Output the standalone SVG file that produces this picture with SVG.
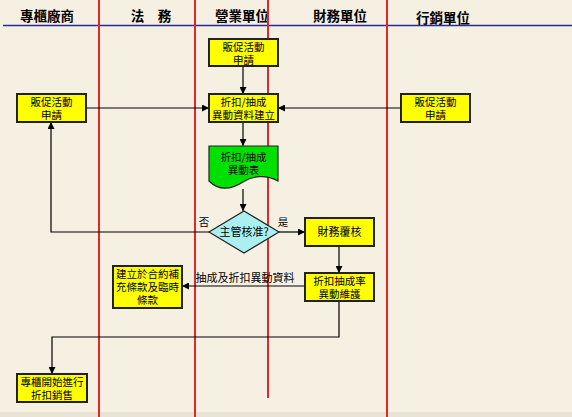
<svg xmlns="http://www.w3.org/2000/svg" width="572" height="417" viewBox="0 0 572 417">
<style>
.hd{font-family:"Noto Sans CJK TC","Noto Sans CJK SC",sans-serif;font-size:13.5px;font-weight:bold;fill:#000;text-anchor:middle}
.t{font-family:"Noto Sans CJK TC","Noto Sans CJK SC",sans-serif;font-size:10.5px;fill:#000;text-anchor:middle}
.box{fill:#ffff00;stroke:#222;stroke-width:2}
.lane{stroke:#e02828;stroke-width:2}
.c{fill:none;stroke:#000;stroke-width:1.2}
</style>
<defs>
<marker id="ar" viewBox="0 0 10 10" refX="10" refY="5" markerWidth="7" markerHeight="7" markerUnits="userSpaceOnUse" orient="auto">
<path d="M0,0 L10,5 L0,10 z" fill="#000"/>
</marker>
</defs>
<rect x="0" y="0" width="572" height="417" fill="#f6f0e3"/>
<rect x="0" y="412" width="572" height="5" fill="#e9e3d6"/>
<g id="header">
<text class="hd" x="47" y="21">專櫃廠商</text>
<text class="hd" x="151" y="21">法　務</text>
<text class="hd" x="242" y="21">營業單位</text>
<text class="hd" x="340" y="21">財務單位</text>
<text class="hd" x="443" y="23">行銷單位</text>
<line x1="3" y1="25.5" x2="572" y2="25.5" stroke="#2a2a9a" stroke-width="1.5"/>
</g>
<g id="lanes">
<line class="lane" x1="99" y1="0" x2="99" y2="417"/>
<line class="lane" x1="195" y1="0" x2="195" y2="417"/>
<line class="lane" x1="268" y1="0" x2="268" y2="398"/>
<line class="lane" x1="387" y1="0" x2="387" y2="417"/>
</g>
<g id="connectors">
<line class="c" x1="243" y1="66" x2="243" y2="94" marker-end="url(#ar)"/>
<line class="c" x1="86" y1="108" x2="209" y2="108" marker-end="url(#ar)"/>
<line class="c" x1="401" y1="108" x2="278" y2="108" marker-end="url(#ar)"/>
<line class="c" x1="243" y1="122" x2="243" y2="146" marker-end="url(#ar)"/>
<line class="c" x1="243" y1="189" x2="243" y2="211" marker-end="url(#ar)"/>
<polyline class="c" points="209,232 51,232 51,122" marker-end="url(#ar)"/>
<line class="c" x1="279" y1="232" x2="305" y2="232" marker-end="url(#ar)"/>
<line class="c" x1="339" y1="246" x2="339" y2="273" marker-end="url(#ar)"/>
<line class="c" x1="305" y1="286" x2="182" y2="286" marker-end="url(#ar)"/>
<polyline class="c" points="339,301 339,337 52,337 52,374" marker-end="url(#ar)"/>
<text class="t" x="204" y="226">否</text>
<text class="t" x="283" y="226">是</text>
<text class="t" x="245" y="282" style="font-size:11px">抽成及折扣異動資料</text>
</g>
<g id="n1">
<rect class="box" x="209" y="39" width="69" height="27"/>
<text class="t" x="243.5" y="50.5">販促活動<tspan x="243.5" dy="13">申請</tspan></text>
</g>
<g id="n2">
<rect class="box" x="209" y="94" width="69" height="28"/>
<text class="t" x="243.5" y="105.5">折扣/抽成<tspan x="243.5" dy="13">異動資料建立</tspan></text>
</g>
<g id="n3">
<rect class="box" x="17" y="94" width="69" height="28"/>
<text class="t" x="51.5" y="105.5">販促活動<tspan x="51.5" dy="13">申請</tspan></text>
</g>
<g id="n4">
<rect class="box" x="401" y="94" width="69" height="28"/>
<text class="t" x="435.5" y="105.5">販促活動<tspan x="435.5" dy="13">申請</tspan></text>
</g>
<g id="n5">
<path d="M209,146 H278 V181 C266,174 252,176 243,182 C232,189 220,192 209,181 Z" fill="#00e000" stroke="#222" stroke-width="1.2"/>
<text class="t" x="243.5" y="161">折扣/抽成<tspan x="243.5" dy="13">異動表</tspan></text>
</g>
<g id="n6">
<polygon points="244,211 279,232 244,253 209,232" fill="#aaf0f0" stroke="#222" stroke-width="1.2"/>
<text class="t" x="244" y="236" style="font-size:11px">主管核准?</text>
</g>
<g id="n7">
<rect class="box" x="305" y="218" width="69" height="28"/>
<text class="t" x="339.5" y="236" style="font-size:11px">財務覆核</text>
</g>
<g id="n8">
<rect class="box" x="305" y="273" width="69" height="28"/>
<text class="t" x="339.5" y="284.5">折扣抽成率<tspan x="339.5" dy="13">異動維護</tspan></text>
</g>
<g id="n9">
<rect class="box" x="113" y="266" width="69" height="42"/>
<text class="t" x="147.5" y="277.5">建立於合約補<tspan x="147.5" dy="13">充條款及臨時</tspan><tspan x="147.5" dy="13">條款</tspan></text>
</g>
<g id="n10">
<rect class="box" x="17" y="374" width="70" height="28"/>
<text class="t" x="52" y="385.5">專櫃開始進行<tspan x="52" dy="13">折扣銷售</tspan></text>
</g>
</svg>
